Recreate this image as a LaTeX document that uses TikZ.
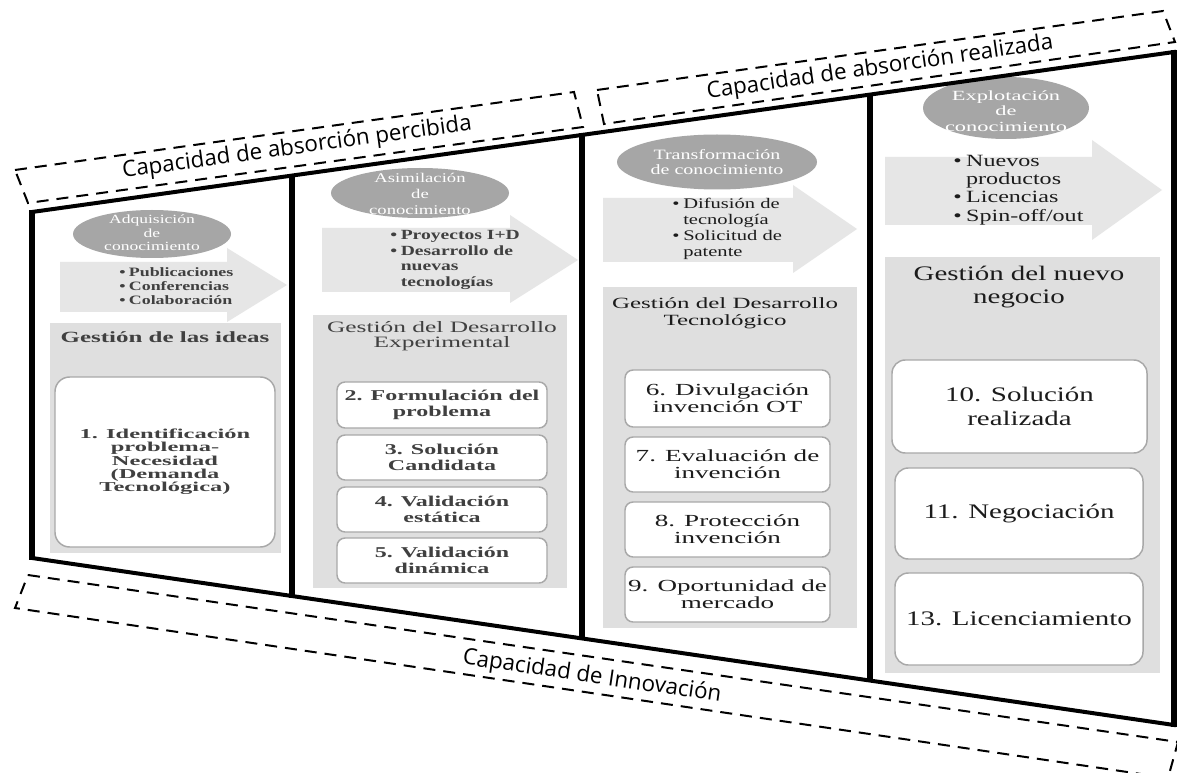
\documentclass[tikz,border=0pt]{standalone}
\usepackage{fontspec}
\setmainfont{Liberation Serif}
\newfontfamily\sA[FakeStretch=1.4]{Liberation Serif}
\newfontfamily\sB[FakeStretch=1.6]{Liberation Serif}
\newfontfamily\sC[FakeStretch=1.8]{Liberation Serif}
\newfontfamily\capfont{Open Sans}
\newcommand\fs[2]{\fontsize{#1}{#2}\selectfont}
\newcommand\bul{\makebox[0.75em][l]{\textbullet}}
\newcommand\ind{\hspace*{0.75em}}
\usetikzlibrary{shapes.geometric}
\definecolor{ellgray}{HTML}{A6A6A6}
\definecolor{arrgray}{HTML}{E6E6E6}
\definecolor{pangray}{HTML}{DFDFDF}
\definecolor{boxline}{HTML}{A8A8A8}
\definecolor{txtA}{HTML}{404040}
\definecolor{txtB}{HTML}{1C1C1C}
\tikzset{
  sz/.style 2 args={minimum width=#1*0.75pt, minimum height=#2*0.75pt},
  ell/.style={ellipse, fill=ellgray, draw=none, inner sep=0pt},
  elltxt/.style={text=white, align=center, inner sep=0pt},
  panel/.style={rectangle, fill=pangray, draw=none, inner sep=0pt},
  rbox/.style={rectangle, fill=white, draw=boxline, line width=1.1pt, inner sep=0pt},
  btxt/.style={align=center, inner sep=0pt},
  bultxt/.style={align=left, anchor=west, inner sep=0pt},
  arrowshape/.style={fill=arrgray, draw=none},
  frameline/.style={line width=3pt, line cap=rect},
  vline/.style={line width=4.6pt},
  dbox/.style={line width=1.5pt, dash pattern=on 9pt off 6pt},
  captxt/.style={font=\capfont\fontsize{16.8}{18}\selectfont, inner sep=0pt}
}
\begin{document}
\begin{tikzpicture}[x=0.75pt, y=-0.75pt]
\useasboundingbox (0,0) rectangle (1177,773);
\fill[white] (0,0) rectangle (1177,773);

% ---------- Column 1 ----------
\node[ell, sz={158}{48}] (e1) at (152,234) {};
\node[elltxt, font=\sA\fs{9.4}{10}] (e1t) at (152,233) {Adquisición\\de\\conocimiento};
\fill[arrowshape] (60,262) -- (227,262) -- (227,248) -- (287,285) -- (227,322) -- (227,312) -- (60,312) -- cycle;
\node[bultxt, text=txtA, font=\sA\bfseries\fs{9.6}{10.5}] (l1) at (119,286) {\bul Publicaciones\\\bul Conferencias\\\bul Colaboración};
\node[panel, sz={231}{230}] (p1) at (165.5,438) {};
\node[btxt, text=txtA, font=\sB\bfseries\fs{11.7}{12}] (t1) at (165,337) {Gestión de las ideas};
\node[rbox, rounded corners=11pt, sz={220}{170}] (b1) at (165,462) {};
\node[btxt, text=txtA, font=\sC\bfseries\fs{10.2}{10}] at (b1.center) {1. Identificación\\problema-\\Necesidad\\(Demanda\\Tecnológica)};

% ---------- Column 2 ----------
\node[ell, sz={178}{50}] (e2) at (420,193) {};
\node[elltxt, font=\sA\fs{10}{11.7}] (e2t) at (420,194) {Asimilación\\de\\conocimiento};
\fill[arrowshape] (322,228) -- (510,228) -- (510,215) -- (578,260) -- (510,303) -- (510,292) -- (322,292) -- cycle;
\node[bultxt, text=txtA, font=\sA\bfseries\fs{10.5}{11.6}] (l2) at (390,260) {\bul Proyectos I+D\\\bul Desarrollo de\\\ind nuevas\\\ind tecnologías};
\node[panel, sz={254}{273}] (p2) at (440,451.5) {};
\node[btxt, text=txtA, font=\sB\fs{11.9}{11.5}] (t2) at (442,336) {Gestión del Desarrollo\\Experimental};
\node[rbox, rounded corners=6pt, sz={210}{46}] (b2) at (442,405) {};
\node[rbox, rounded corners=6pt, sz={210}{45}] (b3) at (442,457.5) {};
\node[rbox, rounded corners=6pt, sz={210}{45}] (b4) at (442,509.5) {};
\node[rbox, rounded corners=6pt, sz={210}{45}] (b5) at (442,560.5) {};
\node[btxt, text=txtA, font=\sB\bfseries\fs{11.25}{11.5}] at (b2.center) {2. Formulación del\\problema};
\node[btxt, text=txtA, font=\sB\bfseries\fs{11.25}{11.5}] at (b3.center) {3. Solución\\Candidata};
\node[btxt, text=txtA, font=\sB\bfseries\fs{11.25}{11.5}] at (b4.center) {4. Validación\\estática};
\node[btxt, text=txtA, font=\sB\bfseries\fs{11.25}{11.5}] at (b5.center) {5. Validación\\dinámica};

% ---------- Column 3 ----------
\node[ell, sz={200}{55}] (e3) at (717,162) {};
\node[elltxt, font=\sA\fs{10.7}{11.5}] (e3t) at (717,162) {Transformación\\de conocimiento};
\fill[arrowshape] (603,198) -- (793,198) -- (793,185) -- (857,229) -- (793,273) -- (793,262) -- (603,262) -- cycle;
\node[bultxt, text=txtB, font=\sA\fs{11}{12}] (l3) at (672,229) {\bul Difusión de\\\ind tecnología\\\bul Solicitud de\\\ind patente};
\node[panel, sz={254}{341}] (p3) at (730,457.5) {};
\node[btxt, text=txtB, font=\sB\fs{11.7}{12.4}] (t3) at (725,313) {Gestión del Desarrollo\\Tecnológico};
\node[rbox, rounded corners=6pt, sz={205}{57}] (b6) at (727.5,398.5) {};
\node[rbox, rounded corners=6pt, sz={205}{55}] (b7) at (727.5,464.5) {};
\node[rbox, rounded corners=6pt, sz={205}{55}] (b8) at (727.5,529.5) {};
\node[rbox, rounded corners=6pt, sz={205}{55}] (b9) at (727.5,594.5) {};
\node[btxt, text=txtB, font=\sB\fs{12.7}{12.75}] at (b6.center) {6. Divulgación\\invención OT};
\node[btxt, text=txtB, font=\sB\fs{12.7}{12.75}] at (b7.center) {7. Evaluación de\\invención};
\node[btxt, text=txtB, font=\sB\fs{12.7}{12.75}] at (b8.center) {8. Protección\\invención};
\node[btxt, text=txtB, font=\sB\fs{12.7}{12.75}] at (b9.center) {9. Oportunidad de\\mercado};

% ---------- Column 4 ----------
\node[ell, sz={166}{62}] (e4) at (1006,108) {};
\node[elltxt, font=\sB\fs{10.5}{11.5}] (e4t) at (1006,111) {Explotación\\de\\conocimiento};
\fill[arrowshape] (885,157) -- (1092,157) -- (1092,140) -- (1162,190) -- (1092,240) -- (1092,225) -- (885,225) -- cycle;
\node[bultxt, text=txtB, font=\sA\fs{12.9}{13.75}] (l4) at (953,190) {\bul Nuevos\\\ind productos\\\bul Licencias\\\bul Spin-off/out};
\node[panel, sz={275}{416}] (p4) at (1022.5,465) {};
\node[btxt, text=txtB, font=\sA\fs{15.5}{17.25}] (t4) at (1019,287) {Gestión del nuevo\\negocio};
\node[rbox, rounded corners=10pt, sz={255}{93}] (b10) at (1019.5,406.5) {};
\node[rbox, rounded corners=10pt, sz={248}{91}] (b11) at (1019,513.5) {};
\node[rbox, rounded corners=10pt, sz={248}{92}] (b13) at (1019,619) {};
\node[btxt, text=txtB, font=\sA\fs{15.5}{18}] at (b10.center) {10. Solución\\realizada};
\node[btxt, text=txtB, font=\sA\fs{15.5}{18}] at (b11.center) {11. Negociación};
\node[btxt, text=txtB, font=\sA\fs{15.5}{18}] at (b13.center) {13. Licenciamiento};

% ---------- Frame ----------
\draw[frameline] (32,212) -- (1174,52);
\draw[frameline] (32,558) -- (1174,725);
\draw[vline] (32,210) -- (32,560);
\draw[vline] (292,174) -- (292,598);
\draw[vline] (582,133) -- (582,640);
\draw[vline] (870,93) -- (870,682);
\draw[vline] (1174,50) -- (1174,727);

% ---------- Dashed boxes ----------
\begin{scope}
\clip (0,0) rectangle (1177,773);
\draw[dbox] (15,170) -- (574,92) -- (583,127) -- (28,203) -- cycle;
\draw[dbox] (597,90) -- (1163,11) -- (1175,42) -- (604,124) -- cycle;
\draw[dbox] (28,575) -- (1178,742) -- (1168,778) -- (15,608) -- cycle;
\end{scope}
\node[captxt, rotate=7.8] (c1) at (297,148) {Capacidad de absorción percibida};
\node[captxt, rotate=8.2] (c2) at (880,68) {Capacidad de absorción realizada};
\node[captxt, rotate=-8.3] (c3) at (592,677) {Capacidad de Innovación};
\end{tikzpicture}
\end{document}
